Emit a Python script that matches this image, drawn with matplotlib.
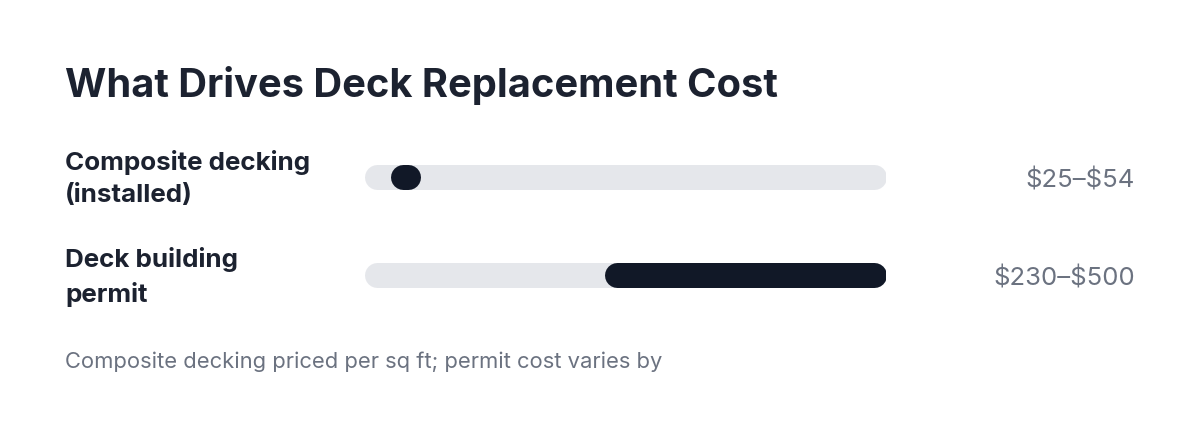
import matplotlib.pyplot as plt

# data
labels = ["Composite decking\n(installed)", "Deck building\npermit"]
lows = [25, 230]
highs = [54, 500]
value_labels = [r"\$25–\$54", r"\$230–\$500"]
scale_max = 500

title = "What Drives Deck Replacement Cost"
note = "Composite decking priced per sq ft; permit cost varies by"

W, H = 1200, 431
plt.rcParams['font.family'] = ['Inter', 'DejaVu Sans']

fig = plt.figure(figsize=(W / 100, H / 100), dpi=100)
fig.patch.set_facecolor('white')

# axes placed by pixel box: track spans x 364..886, rows at y 177.5 and 276
row_gap = 98.5
top = 177.5 - row_gap / 2
ax = fig.add_axes([364 / W, 1 - (top + 2 * row_gap) / H, 522 / W, 2 * row_gap / H])
ax.set_xlim(0, scale_max)
ax.set_ylim(1.5, -0.5)
ax.axis('off')

bar_px = 25
lw = bar_px * 72 / 100
r = (bar_px / 2) * scale_max / 522  # cap radius in data units

for i in range(len(labels)):
    ax.plot([r, scale_max - r], [i, i], color='#e5e7eb', lw=lw,
            solid_capstyle='round', zorder=1)
    x0, x1 = lows[i] + r, highs[i] - r
    if x1 < x0:
        x0 = x1 = (lows[i] + highs[i]) / 2
    ax.plot([x0, x1], [i, i], color='#111827', lw=lw,
            solid_capstyle='round', zorder=2)

    yc = 1 - (178.5 + i * row_gap) / H
    fig.text(65 / W, yc, labels[i], fontsize=18.7, fontweight='bold',
             color='#1c2230', va='center', ha='left', linespacing=1.5)
    fig.text(1135 / W, yc - 2 / H, value_labels[i], fontsize=18.5, color='#6b7280',
             va='center', ha='right')

fig.text(65 / W, 1 - 97 / H, title, fontsize=28.7, fontweight='bold',
         color='#1c2230', va='baseline', ha='left')
fig.text(65 / W, 1 - 368 / H, note, fontsize=15.8, color='#6b7280',
         va='baseline', ha='left')

fig.savefig('out.png', dpi=100, facecolor='white')
